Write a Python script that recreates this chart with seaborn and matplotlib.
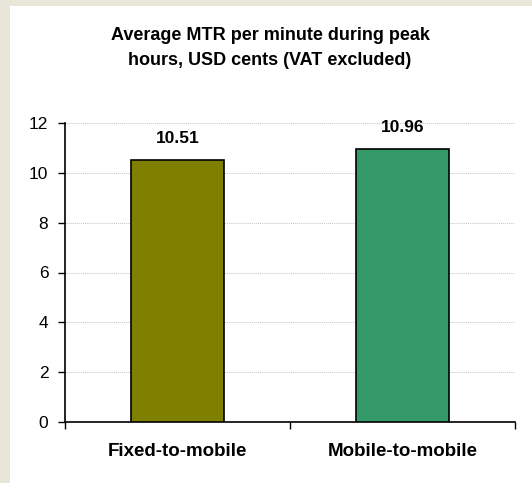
import matplotlib
matplotlib.use("Agg")
import matplotlib.pyplot as plt
import seaborn as sns
import pandas as pd
from matplotlib.patches import Rectangle
from matplotlib.ticker import FixedLocator, NullFormatter

categories = ["Fixed-to-mobile", "Mobile-to-mobile"]
values = [10.51, 10.96]
bar_colors = ["#808000", "#339966"]
y_ticks = [0, 2, 4, 6, 8, 10, 12]
title = "Average MTR per minute during peak\nhours, USD cents (VAT excluded)"

df = pd.DataFrame({"category": categories, "value": values})

sns.set_theme(style="white")
plt.rcParams["font.family"] = ["Liberation Sans", "DejaVu Sans"]
plt.rcParams["text.color"] = "black"
plt.rcParams["xtick.color"] = "black"
plt.rcParams["ytick.color"] = "black"

fig = plt.figure(figsize=(5.32, 4.83), dpi=100, facecolor="#E8E5D9")
fig.patches.append(Rectangle((10 / 532, 0), 1, 1 - 6 / 483, transform=fig.transFigure,
                             facecolor="white", edgecolor="none", zorder=-5))

ax = fig.add_axes([65 / 532, 61 / 483, 450 / 532, 299 / 483])
ax.set_facecolor("none")

sns.barplot(data=df, x="category", y="value", hue="category", palette=bar_colors,
            saturation=1, width=0.41, edgecolor="black", linewidth=1.2, legend=False,
            ax=ax, zorder=3)

ax.set_xlim(-0.5, 1.5)
ax.set_ylim(0, 12)
ax.set_yticks(y_ticks)
ax.set_yticklabels([str(t) for t in y_ticks], fontsize=12.5, color="black")
ax.yaxis.grid(True, color="#c4c4c4", linestyle=(0, (1, 1)), linewidth=0.7, zorder=0)
ax.set_axisbelow(True)

# boundary ticks between categories, labels placed at category centres
ax.xaxis.set_major_locator(FixedLocator([-0.5, 0.5, 1.5]))
ax.xaxis.set_major_formatter(NullFormatter())
ax.xaxis.set_minor_locator(FixedLocator([0, 1]))
ax.set_xticklabels(categories, minor=True, fontsize=13.5, fontweight="bold", color="black")
ax.tick_params(axis="x", which="minor", length=0, pad=15)
ax.tick_params(axis="x", which="major", direction="out", length=5, width=1, color="black", bottom=True)
ax.tick_params(axis="y", direction="out", length=5, width=1, color="black", left=True, pad=7)

for side in ["top", "right"]:
    ax.spines[side].set_visible(False)
for side in ["left", "bottom"]:
    ax.spines[side].set_color("black")
    ax.spines[side].set_linewidth(1.2)

ax.set_xlabel("")
ax.set_ylabel("")

for container in ax.containers:
    ax.bar_label(container, fmt="%.2f", padding=10, fontsize=12.5, fontweight="bold", color="black")

fig.text(270 / 532, 1 - 48 / 483, title, ha="center", va="center", fontsize=13,
         fontweight="bold", linespacing=1.55, color="black")

fig.savefig("out.png", dpi=100, facecolor=fig.get_facecolor())
